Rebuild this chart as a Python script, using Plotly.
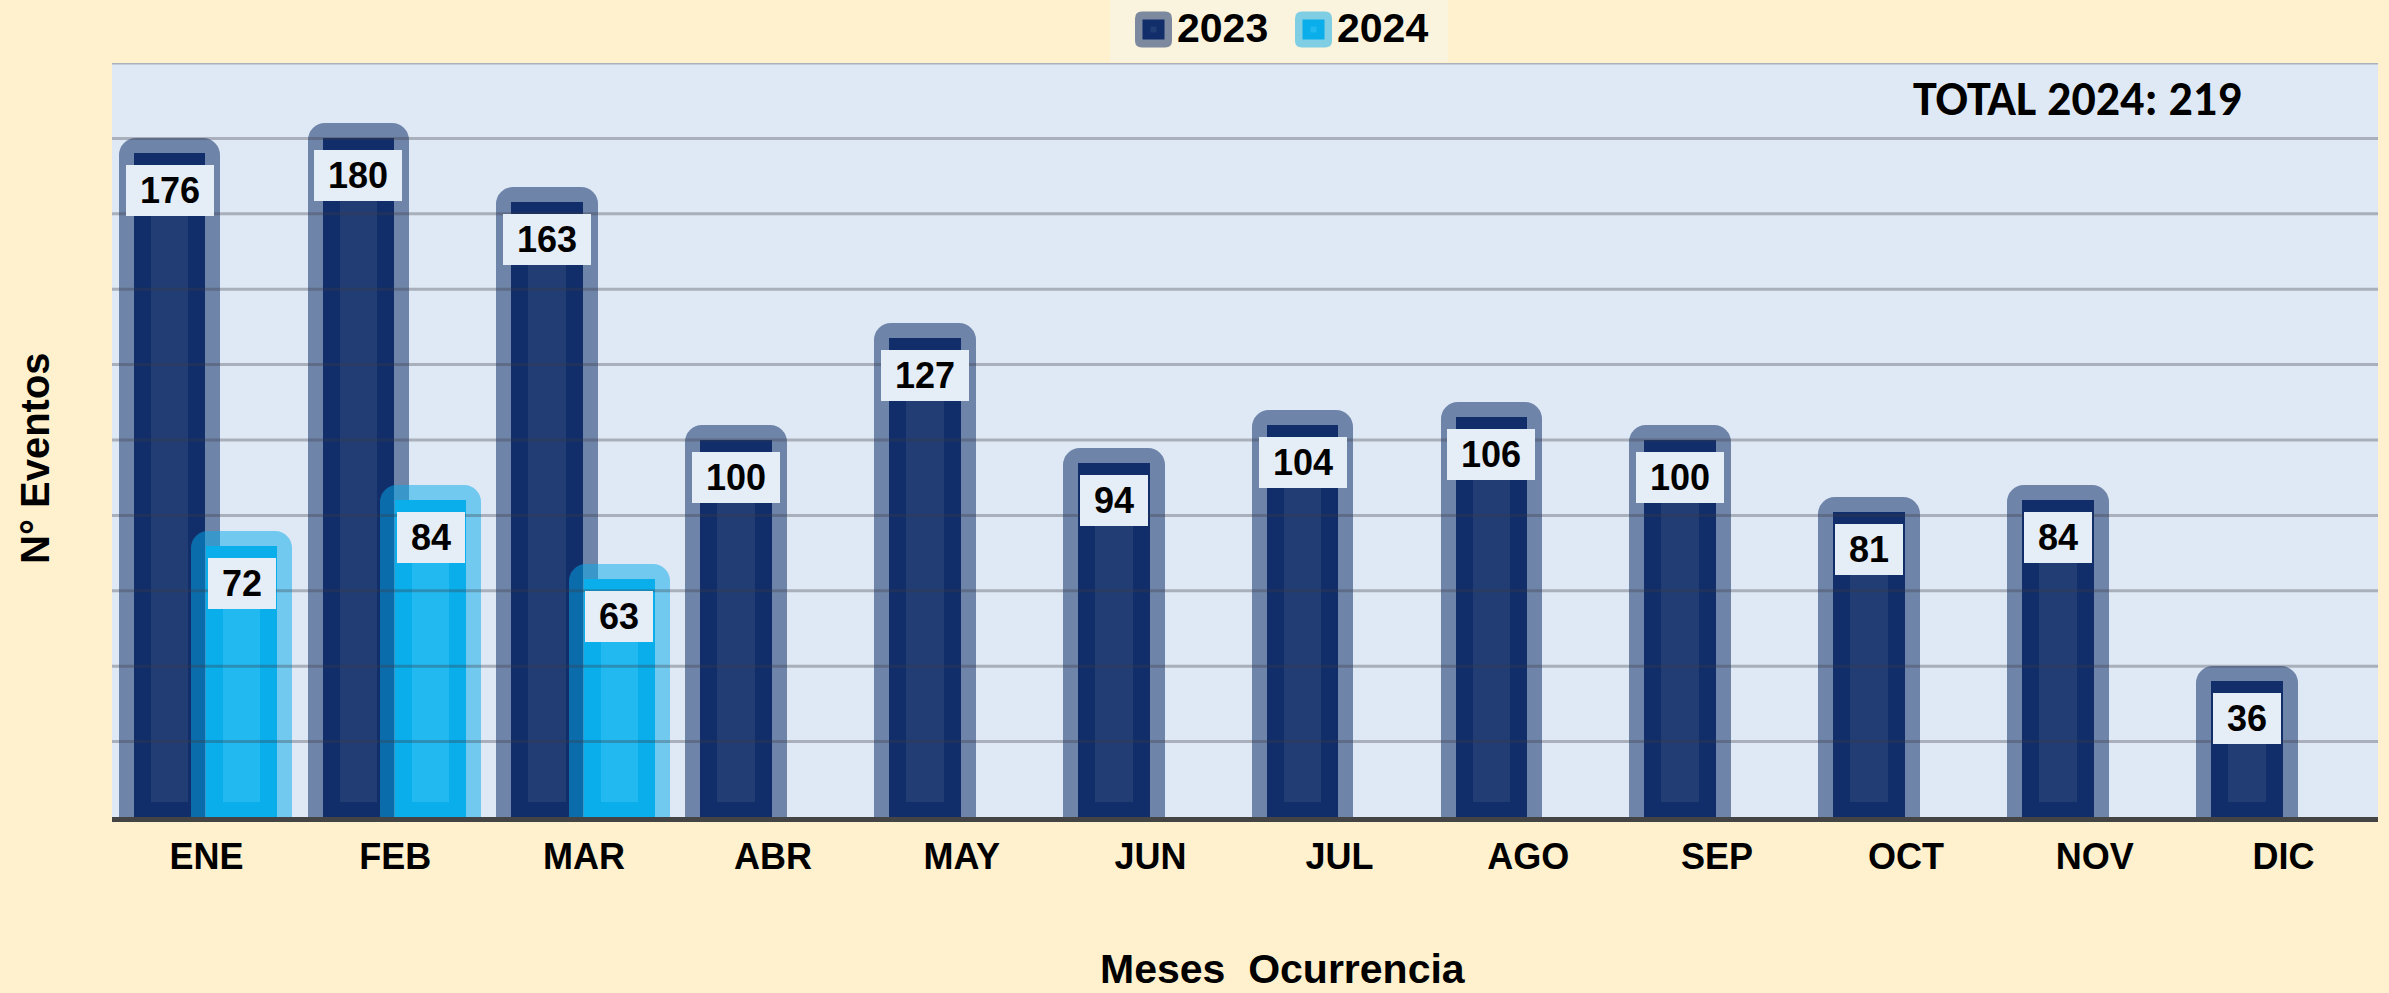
import plotly.graph_objects as go

# Monthly event counts
meses = ["ENE", "FEB", "MAR", "ABR", "MAY", "JUN", "JUL", "AGO", "SEP", "OCT", "NOV", "DIC"]
eventos_2023 = [176, 180, 163, 100, 127, 94, 104, 106, 100, 81, 84, 36]
eventos_2024 = [72, 84, 63, None, None, None, None, None, None, None, None, None]
anios = ["2023", "2024"]
y_max = 200
grid_step = 20

# Page geometry (pixels)
W, H = 2389, 993
ML, MR, MT, MB = 112, 11, 63, 176
PW = W - ML - MR
PH = H - MT - MB

PAGE_BG = "#fff1cd"
PLOT_BG = "#dee9f5"
LABEL_BG = "#e5edf6"
FONT = "Liberation Sans, Arial, sans-serif"

styles = {
    "2023": dict(edge="#112e6a", core="#213d74", halo="rgba(17,46,106,0.54)", offset=-0.385, width=0.38),
    "2024": dict(edge="#0aaeea", core="#22b9f0", halo="rgba(5,170,235,0.5)", offset=0.0, width=0.375),
}
series = {"2023": eventos_2023, "2024": eventos_2024}

cat_px = PW / len(meses)
unit_px = PH / y_max
inset_x = 17 / cat_px      # stripe width on the sides of each bar (category units)
inset_y = 15 / unit_px     # stripe height at top/bottom (value units)

fig = go.Figure()

for anio in anios:
    st = styles[anio]
    vals = series[anio]
    # soft rounded halo around the bar
    fig.add_trace(go.Bar(
        x=meses, y=vals, offset=st["offset"], width=st["width"],
        marker=dict(color="rgba(0,0,0,0)", line=dict(color=st["halo"], width=30), cornerradius=2),
        showlegend=False, hoverinfo="skip",
    ))
    # solid bar
    fig.add_trace(go.Bar(
        x=meses, y=vals, offset=st["offset"], width=st["width"],
        marker=dict(color=st["edge"], line=dict(width=0)),
        name=anio, showlegend=False,
    ))
    # lighter core of the bar
    core_h = [None if v is None else max(v - 2 * inset_y, 0) for v in vals]
    fig.add_trace(go.Bar(
        x=meses, y=core_h, base=inset_y,
        offset=st["offset"] + inset_x, width=st["width"] - 2 * inset_x,
        marker=dict(color=st["core"], line=dict(width=0)),
        showlegend=False, hoverinfo="skip",
    ))

annotations = []

# value labels on top of each bar
for anio in anios:
    st = styles[anio]
    for i, v in enumerate(series[anio]):
        if v is None:
            continue
        txt = str(v)
        annotations.append(dict(
            x=i + st["offset"] + st["width"] / 2, y=v, xref="x", yref="y",
            text=txt, showarrow=False, yanchor="top", xanchor="center", yshift=-12,
            font=dict(family=FONT, size=36, color="black", weight="bold"),
            bgcolor=LABEL_BG, borderwidth=0, borderpad=0,
            width=20 * len(txt) + 28, height=51, valign="middle",
        ))


def px_x(px):
    return (px - ML) / PW


def px_y(py):
    return (H - MB - py) / PH


# horizontal grid drawn over the bars
shapes = []
for g in range(grid_step, y_max + 1, grid_step):
    shapes.append(dict(type="line", xref="paper", yref="y", x0=0, x1=1, y0=g, y1=g,
                       line=dict(color="rgba(60,60,70,0.33)", width=3), layer="above"))


def rounded_rect(cx, cy, w, h, r, color):
    hw, hh = w / 2, h / 2
    path = (f"M{-hw + r},{-hh} L{hw - r},{-hh} Q{hw},{-hh} {hw},{-hh + r} "
            f"L{hw},{hh - r} Q{hw},{hh} {hw - r},{hh} L{-hw + r},{hh} "
            f"Q{-hw},{hh} {-hw},{hh - r} L{-hw},{-hh + r} Q{-hw},{-hh} {-hw + r},{-hh} Z")
    return dict(type="path", xref="paper", yref="paper", xsizemode="pixel", ysizemode="pixel",
                xanchor=px_x(cx), yanchor=px_y(cy), path=path,
                fillcolor=color, line=dict(width=0), layer="above")


# legend box
shapes.append(dict(type="rect", xref="paper", yref="paper",
                   x0=px_x(1110), x1=px_x(1448), y0=px_y(62), y1=px_y(0),
                   fillcolor="#faf3dd", line=dict(width=0), layer="below"))
legend_pos = {"2023": 1153.5, "2024": 1313.5}
for anio in anios:
    st = styles[anio]
    cx = legend_pos[anio]
    shapes.append(rounded_rect(cx, 29.5, 37, 36, 7, st["halo"]))
    shapes.append(rounded_rect(cx, 29.5, 22, 20, 0.01, st["edge"]))
    shapes.append(rounded_rect(cx, 29.5, 6, 6, 0.01, st["core"]))
    annotations.append(dict(
        x=px_x(cx + 21), y=px_y(28), xref="paper", yref="paper", text=anio,
        showarrow=False, xanchor="left", yanchor="middle",
        font=dict(family=FONT, size=41, color="black", weight="bold"),
    ))

# total for the current year
total_2024 = sum(v for v in eventos_2024 if v is not None)
annotations.append(dict(
    x=px_x(2077), y=px_y(98), xref="paper", yref="paper",
    text=f"TOTAL 2024: {total_2024}", showarrow=False, xanchor="center", yanchor="middle",
    font=dict(family="Carlito, Lato, sans-serif", size=48, color="black", weight="bold"),
))

# axis titles
annotations.append(dict(
    x=px_x(1283), y=px_y(969), xref="paper", yref="paper", text="Meses\u00a0 Ocurrencia",
    showarrow=False, xanchor="center", yanchor="middle",
    font=dict(family=FONT, size=41, color="black", weight="bold"),
))
annotations.append(dict(
    x=px_x(35), y=px_y(458), xref="paper", yref="paper", text="N° Eventos", textangle=-90,
    showarrow=False, xanchor="center", yanchor="middle",
    font=dict(family=FONT, size=40, color="black", weight="bold"),
))

fig.update_layout(
    width=W, height=H,
    margin=dict(l=ML, r=MR, t=MT, b=MB, pad=0),
    paper_bgcolor=PAGE_BG, plot_bgcolor=PLOT_BG,
    barmode="overlay", bargap=0,
    showlegend=False,
    annotations=annotations, shapes=shapes,
    xaxis=dict(
        type="category", categoryorder="array", categoryarray=meses,
        range=[-0.5, len(meses) - 0.5],
        showline=True, linecolor="#444444", linewidth=5, layer="above traces",
        ticks="", ticklabelstandoff=4, showgrid=False, zeroline=False,
        tickfont=dict(family=FONT, size=36, color="black", weight="bold"),
    ),
    yaxis=dict(
        range=[0, y_max], showticklabels=False, showgrid=False, zeroline=False,
        ticks="", showline=False,
    ),
)

fig.write_html("out.html")
